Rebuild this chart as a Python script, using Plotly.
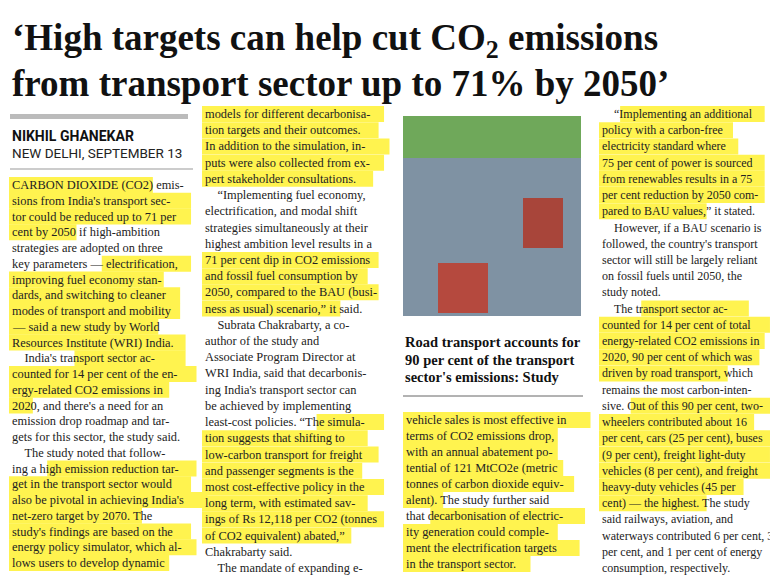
import plotly.graph_objects as go
import re

W, H = 778, 577
HEADLINE = ["‘High targets can help cut CO<sub>2</sub> emissions",
            "from transport sector up to 71% by 2050’"]
BYLINE = "NIKHIL GHANEKAR"
DATELINE = "NEW DELHI, SEPTEMBER 13"
CAPTION = ["Road transport accounts for", "90 per cent of the transport",
           "sector's emissions: Study"]

COL1 = [
"[[CARBON DIOXIDE (CO2) emis-]]",
"[[sions from India's transport sec-]]",
"[[tor could be reduced up to 71 per]]",
"[[cent by 2050]] if high-ambition",
"strategies are adopted on three",
"key parameters — [[electrification,]]",
"[[improving fuel economy stan-]]",
"[[dards, and switching to cleaner]]",
"[[modes of transport and mobility]]",
"[[— said a new study by World]]",
"[[Resources Institute (WRI) India.]]",
"    India's [[transport sector ac-]]",
"[[counted for 14 per cent of the en-]]",
"[[ergy-related CO2 emissions in]]",
"[[2020]], and there's a need for an",
"emission drop roadmap and tar-",
"gets for this sector, the study said.",
"    The study noted that follow-",
"ing a h[[igh emission reduction tar-]]",
"[[get in the transport sector would]]",
"[[also be pivotal in achieving India's]]",
"[[net-zero target by 2070.]] The",
"[[study's findings are based on the]]",
"[[energy policy simulator, which al-]]",
"[[lows users to develop dynamic]]",
]
COL2 = [
"[[models for different decarbonisa-]]",
"[[tion targets and their outcomes.]]",
"[[In addition to the simulation, in-]]",
"[[puts were also collected from ex-]]",
"[[pert stakeholder consultations.]]",
"    “Implementing fuel economy,",
"electrification, and modal shift",
"strategies simultaneously at their",
"highest ambition level results in a",
"[[71 per cent dip in CO2 emissions]]",
"[[and fossil fuel consumption by]]",
"[[2050, compared to the BAU (busi-]]",
"[[ness as usual) scenario,”]] it said.",
"    Subrata Chakrabarty, a co-",
"author of the study and",
"Associate Program Director at",
"WRI India, said that decarbonis-",
"ing India's transport sector can",
"be achieved by implementing",
"least-cost policies. [[“The simula-]]",
"[[tion suggests that shifting to]]",
"[[low-carbon transport for freight]]",
"[[and passenger segments is the]]",
"[[most cost-effective policy in the]]",
"[[long term, with estimated sav-]]",
"[[ings of Rs 12,118 per CO2 (tonnes]]",
"[[of CO2 equivalent) abated,”]]",
"Chakrabarty said.",
"    The mandate of expanding e-",
]
COL3 = [
"[[vehicle sales is most effective in]]",
"[[terms of CO2 emissions drop,]]",
"[[with an annual abatement po-]]",
"[[tential of 121 MtCO2e (metric]]",
"[[tonnes of carbon dioxide equiv-]]",
"[[alent).]] The study further said",
"that [[decarbonisation of electric-]]",
"[[ity generation could comple-]]",
"[[ment the electrification targets]]",
"[[in the transport sector]].",
]
COL4 = [
"    [[“Implementing an additional]]",
"[[policy with a carbon-free]]",
"[[electricity standard where]]",
"[[75 per cent of power is sourced]]",
"[[from renewables results in a 75]]",
"[[per cent reduction by 2050 com-]]",
"[[pared to BAU values,]]” it stated.",
"    However, if a BAU scenario is",
"followed, the country's transport",
"sector will still be largely reliant",
"on fossil fuels until 2050, the",
"study noted.",
"    The [[transport sector ac-]]",
"[[counted for 14 per cent of total]]",
"[[energy-related CO2 emissions in]]",
"[[2020, 90 per cent of which was]]",
"[[driven by road transport]], which",
"remains the most carbon-inten-",
"sive. [[Out of this 90 per cent, two-]]",
"[[wheelers contributed about 16]]",
"[[per cent, cars (25 per cent), buses]]",
"[[(9 per cent), freight light-duty]]",
"[[vehicles (8 per cent), and freight]]",
"[[heavy-duty vehicles (45 per]]",
"[[cent) — the highest.]] The study",
"said railways, aviation, and",
"waterways contributed 6 per cent, 3",
"per cent, and 1 per cent of energy",
"consumption, respectively.",
]

# column layout: (lines, x, y_first, y_last, font size)
COLUMNS = [(COL1, 2, 177, 555, 12.4), (COL2, 195, 106, 560, 12.4),
           (COL3, 396, 412, 556, 12.4), (COL4, 592, 106, 560, 12.0)]

YEL = "#fff34f"
FONT = "Liberation Serif"
fig = go.Figure()
shapes, anns = [], []

for lines, x0, y0, y1, fs in COLUMNS:
    step = (y1 - y0) / (len(lines) - 1)
    cw = fs * 0.44
    for i, raw in enumerate(lines):
        y = y0 + i * step
        plain = raw.replace("[[", "").replace("]]", "")
        pos = 0
        for m in re.finditer(r"\[\[(.*?)\]\]|([^\[]+)", raw):
            seg = m.group(1) if m.group(1) is not None else m.group(2)
            if m.group(1) is not None:
                shapes.append(dict(type="rect", xref="x", yref="y", layer="below",
                                   x0=x0 + pos * cw - 1, x1=x0 + (pos + len(seg)) * cw + 1,
                                   y0=y - 8, y1=y + 8, fillcolor=YEL, line_width=0))
            pos += len(seg)
        anns.append(dict(x=x0, y=y, xref="x", yref="y", text=plain.replace("    ", "&nbsp;&nbsp;&nbsp;&nbsp;"),
                         showarrow=False, xanchor="left", yanchor="middle",
                         font=dict(family=FONT, size=fs, color="#222")))

for i, t in enumerate(HEADLINE):
    anns.append(dict(x=2, y=32 + i * 43, xref="x", yref="y", text="<b>" + t + "</b>",
                     showarrow=False, xanchor="left", yanchor="middle",
                     font=dict(family=FONT, size=37, color="#111")))
anns.append(dict(x=2, y=128, xref="x", yref="y", text="<b>" + BYLINE + "</b>", showarrow=False,
                 xanchor="left", yanchor="middle", font=dict(family="Roboto", size=14, color="#111")))
anns.append(dict(x=2, y=145, xref="x", yref="y", text=DATELINE, showarrow=False,
                 xanchor="left", yanchor="middle", font=dict(family="Roboto", size=13.5, color="#222")))
for i, t in enumerate(CAPTION):
    anns.append(dict(x=395, y=334 + i * 17.5, xref="x", yref="y", text="<b>" + t + "</b>",
                     showarrow=False, xanchor="left", yanchor="middle",
                     font=dict(family=FONT, size=14.5, color="#111")))

# rules and photo placeholder
shapes += [
    dict(type="rect", x0=2, x1=180, y0=106, y1=111, fillcolor="#bbbbbb", line_width=0),
    dict(type="line", x0=2, x1=185, y0=161, y1=161, line=dict(color="#999", width=1)),
    dict(type="line", x0=395, x1=575, y0=388, y1=388, line=dict(color="#666", width=1)),
    dict(type="rect", x0=395, x1=573, y0=108, y1=308, fillcolor="#7f92a3", line_width=0, layer="below"),
    dict(type="rect", x0=395, x1=573, y0=108, y1=150, fillcolor="#6fa85a", line_width=0, layer="below"),
    dict(type="rect", x0=430, x1=480, y0=255, y1=305, fillcolor="#b5493e", line_width=0, layer="below"),
    dict(type="rect", x0=515, x1=555, y0=190, y1=240, fillcolor="#a8453a", line_width=0, layer="below"),
]

fig.update_layout(width=W, height=H, margin=dict(l=0, r=0, t=0, b=0),
                  paper_bgcolor="white", plot_bgcolor="white",
                  xaxis=dict(range=[0, W], visible=False, fixedrange=True),
                  yaxis=dict(range=[H, 0], visible=False, fixedrange=True),
                  shapes=shapes, annotations=anns, showlegend=False)
fig.write_html("out.html")
